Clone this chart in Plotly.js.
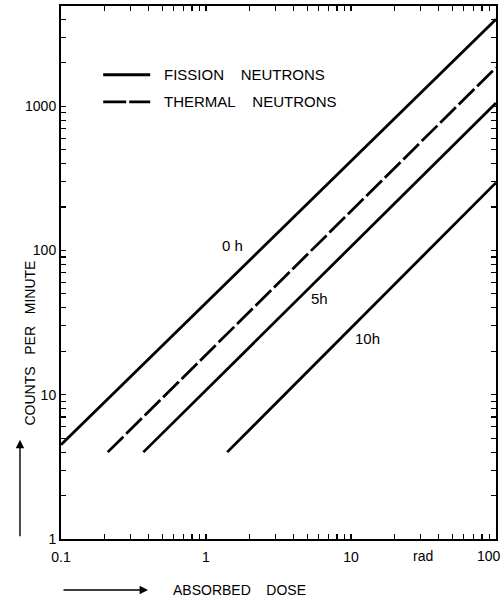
<!DOCTYPE html>
<html>
<head>
<meta charset="utf-8">
<script src="https://cdn.plot.ly/plotly-3.0.1.min.js"></script>
<style>html,body{margin:0;padding:0;background:#fff;}#chart{width:504px;height:600px;}</style>
</head>
<body>
<div id="chart"></div>
<script>
// Data (absorbed dose in rad, counts per minute)
const fissionDose = [0.1, 100];
const fissionCpm = [4.5, 4000];
const thermalDose = [0.21, 100];
const thermalCpm = [4.0, 1850];
const h5Dose = [0.37, 100];
const h5Cpm = [4.0, 1050];
const h10Dose = [1.4, 100];
const h10Cpm = [4.0, 295];

const xLabelVals = [0.1, 1, 10];
const xLabelText = ['0.1', '1', '10'];
const xEndLabel = '100';
const yLabelVals = [1, 10, 100, 1000];
const yLabelText = ['1', '10', '100', '1000'];
const curveLabels = ['0 h', '5h', '10h'];
const curveLabelX = [1.535, 6.11, 12.9];
const curveLabelY = [109, 46.8, 24.7];
const NB = '\u00A0';
const legendNames = ['FISSION' + NB.repeat(4) + 'NEUTRONS', 'THERMAL' + NB.repeat(4) + 'NEUTRONS'];

function logTicks(lo, hi) {
  const v = [], t = [];
  for (let e = lo; e < hi; e++) {
    for (let m = 1; m <= 9; m++) {
      v.push(m * Math.pow(10, e));
      t.push('');
    }
  }
  v.push(Math.pow(10, hi)); t.push('');
  return {v, t};
}
const xt = logTicks(-1, 2);
xLabelVals.forEach((val, i) => {
  const k = xt.v.findIndex(z => Math.abs(z - val) < 1e-9 * val);
  if (k >= 0) xt.t[k] = xLabelText[i];
});
const yt = logTicks(0, 4);
yLabelVals.forEach((val, i) => {
  const k = yt.v.findIndex(z => Math.abs(z - val) < 1e-9 * val);
  if (k >= 0) yt.t[k] = yLabelText[i];
});

const lineStyle = {color: '#000', width: 2.8};
const traces = [
  {x: fissionDose, y: fissionCpm, mode: 'lines', line: lineStyle, showlegend: false},
  {x: thermalDose, y: thermalCpm, mode: 'lines', line: Object.assign({}, lineStyle, {dash: '22px,4px'}), showlegend: false},
  {x: h5Dose, y: h5Cpm, mode: 'lines', line: lineStyle, showlegend: false},
  {x: h10Dose, y: h10Cpm, mode: 'lines', line: lineStyle, showlegend: false}
];

const fam = 'Liberation Sans, Arial, sans-serif';
const tickFont = {family: fam, size: 14, color: '#000'};
const labFont = {family: fam, size: 15, color: '#000'};
const titleFont = {family: fam, size: 14, color: '#000'};
const annotations = [];
curveLabels.forEach((txt, i) => {
  annotations.push({x: Math.log10(curveLabelX[i]), y: Math.log10(curveLabelY[i]), xref: 'x', yref: 'y',
    text: txt, showarrow: false, font: labFont});
});
legendNames.forEach((txt, i) => {
  annotations.push({x: 0.232, y: [0.871, 0.820][i], xref: 'paper', yref: 'paper', xanchor: 'left', yanchor: 'middle',
    text: txt, showarrow: false, font: labFont});
});
annotations.push({x: 0.411, y: -0.0957, xref: 'paper', yref: 'paper', yanchor: 'middle',
  text: 'ABSORBED' + NB.repeat(4) + 'DOSE', showarrow: false, font: titleFont});
annotations.push({x: -0.094, y: 0.367, xref: 'paper', yref: 'paper',
  text: 'COUNTS' + NB.repeat(3) + 'PER' + NB.repeat(3) + 'MINUTE',
  textangle: -90, showarrow: false, font: titleFont});
annotations.push({x: Math.log10(31.6), y: 0, xref: 'x', yref: 'paper', yanchor: 'top', yshift: -7,
  text: 'rad', showarrow: false, font: tickFont});
annotations.push({x: 1, y: 0, xref: 'paper', yref: 'paper', xanchor: 'right', yanchor: 'top', xshift: 7, yshift: -7,
  text: xEndLabel, showarrow: false, font: tickFont});
// axis-direction arrows
annotations.push({x: 0.2, y: -0.0957, xref: 'paper', yref: 'paper', text: '', showarrow: true,
  ax: -86, ay: 0, arrowhead: 2, arrowsize: 1.2, arrowwidth: 1.4, arrowcolor: '#000'});
annotations.push({x: -0.0943, y: 0.186, xref: 'paper', yref: 'paper', text: '', showarrow: true,
  ax: 0, ay: 98, arrowhead: 2, arrowsize: 1.2, arrowwidth: 1.4, arrowcolor: '#000'});

const shapes = [
  {type: 'line', xref: 'paper', yref: 'paper', x0: 0.097, x1: 0.205, y0: 0.871, y1: 0.871,
    line: {color: '#000', width: 2.8}},
  {type: 'line', xref: 'paper', yref: 'paper', x0: 0.097, x1: 0.205, y0: 0.820, y1: 0.820,
    line: {color: '#000', width: 2.8, dash: '23px,3px'}}
];

const axisCommon = {
  type: 'log', tickmode: 'array', ticks: 'inside', ticklen: 5, tickwidth: 1.2, tickcolor: '#000',
  showline: true, linecolor: '#000', linewidth: 2, mirror: 'ticks', showgrid: false, zeroline: false,
  tickfont: tickFont
};

const layout = {
  width: 504, height: 600,
  margin: {l: 61, r: 8, t: 6, b: 61},
  paper_bgcolor: '#fff', plot_bgcolor: '#fff',
  font: tickFont,
  xaxis: Object.assign({}, axisCommon, {range: [-1, 2], tickvals: xt.v, ticktext: xt.t, ticklabelstandoff: 4}),
  yaxis: Object.assign({}, axisCommon, {range: [0, 3.694], tickvals: yt.v, ticktext: yt.t}),
  annotations: annotations,
  shapes: shapes,
  showlegend: false
};

Plotly.newPlot('chart', traces, layout, {displayModeBar: false, staticPlot: true});
</script>
</body>
</html>
